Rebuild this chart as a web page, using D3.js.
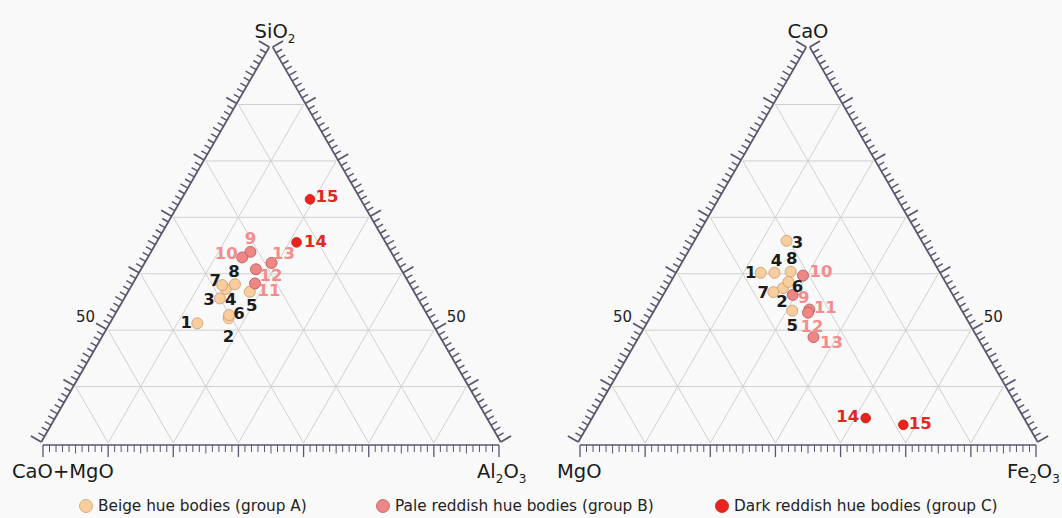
<!DOCTYPE html>
<html><head><meta charset="utf-8">
<script src="https://cdn.jsdelivr.net/npm/d3@7"></script>
<style>
body{margin:0;background:#f9f9f9;}
svg{display:block;font-family:"DejaVu Sans",Verdana,sans-serif;}
</style>
</head><body><svg id="chart" width="1062" height="518"></svg>
<script>
// ---------- data ----------
const sampleIds = [1,2,3,4,5,6,7,8,9,10,11,12,13,14,15];
const sampleGroups = ["A","A","A","A","A","A","A","A","B","B","B","B","B","C","C"];
const groupKeys = ["A","B","C"];
const groupNames = ["Beige hue bodies (group A)","Pale reddish hue bodies (group B)","Dark reddish hue bodies (group C)"];

// left diagram: SiO2 (top) - Al2O3 (right) - CaO+MgO (left), wt %
const leftSiO2   = [30.3,31.6,36.6,39.0,38.3,32.4,40.0,40.2,48.4,47.0,40.4,44.0,45.6,50.8,61.7];
const leftAl2O3  = [18.7,24.9,20.5,20.6,26.2,24.6,19.3,22.0,21.3,20.2,26.3,24.7,27.3,30.2,27.7];
const leftCaOMgO = [51.0,43.5,42.9,40.4,35.5,43.0,40.7,37.8,30.3,32.8,33.3,31.3,27.1,19.0,10.6];

// right diagram: CaO (top) - Fe2O3 (right) - MgO (left), wt %
const rightCaO   = [43.1,39.2,51.2,43.1,33.5,40.8,38.2,43.4,37.5,42.4,33.8,33.0,26.8,6.3,4.6];
const rightFe2O3 = [18.1,24.9,19.7,21.1,29.8,25.3,23.3,24.5,27.9,27.7,33.4,33.5,37.8,59.5,68.6];
const rightMgO   = [38.8,35.9,29.1,35.8,36.7,33.9,38.5,32.1,34.6,29.9,32.8,33.5,35.4,34.2,26.8];

const gridDivisions = 7;
const sideTickLabels = ["50"];

// ---------- layout / style ----------
const leftLabelOffsets  = [[-11,-1],[0,18],[-11,1],[5,11],[2,14],[10,-2],[-7,-5],[-1,-13],[0,-13],[-16,-4],[14,7],[15,6],[12,-9],[19,-1],[17,-3]];
const rightLabelOffsets = [[-10,0],[-1,13],[11,2],[2,-12],[0,15],[9,5],[-10,0],[1,-13],[11,3],[18,-4],[16,-2],[4,14],[18,5],[-18,-2],[17,-1]];
const fillColor   = {A:"#f9cd9c", B:"#f08585", C:"#e8241c"};
const strokeColor = {A:"#c9a27a", B:"#b86060", C:"#d11a12"};
const labelColor  = {A:"#1b1b1b", B:"#f58b8b", C:"#e5261d"};
const radius      = {A:5.5, B:5.5, C:4.8};

const svg = d3.select("#chart");

function drawTernary(cfg){
  const {x0, x1, yb, top, right, left, titles, labelOffsets} = cfg;
  const W = x1 - x0, H = W*Math.sqrt(3)/2;
  const xs = d3.scaleLinear().domain([0,100]).range([x0,x1]);
  const ys = d3.scaleLinear().domain([0,100]).range([yb, yb-H]);
  const pos = (t,r,l) => { const s=t+r+l; t=t/s*100; r=r/s*100; return [xs(r+t/2), ys(t)]; };
  const g = svg.append("g");

  // grid
  const grid = g.append("g").attr("stroke","#d0d0d0").attr("stroke-width",1).attr("fill","none");
  const step = 100/gridDivisions;
  for(let k=1;k<gridDivisions;k++){
    const v = k*step;
    const lines = [
      [pos(v,0,100-v), pos(v,100-v,0)],
      [pos(0,v,100-v), pos(100-v,v,0)],
      [pos(0,100-v,v), pos(100-v,0,v)]
    ];
    lines.forEach(([a,b])=>grid.append("line").attr("x1",a[0]).attr("y1",a[1]).attr("x2",b[0]).attr("y2",b[1]));
  }

  // axes (offset outward)
  const A = pos(0,0,100), B = pos(0,100,0), C = pos(100,0,0);
  const sides = [
    {p:A, q:B, n:[0,1], labels:false, sw:1},
    {p:A, q:C, n:[-Math.sqrt(3)/2,-0.5], labels:true, sw:1.5},
    {p:B, q:C, n:[Math.sqrt(3)/2,-0.5], labels:true, sw:1.5}
  ];
  const ax = g.append("g").attr("stroke","#5a5670").attr("fill","none");
  const off = 2;
  const nt = gridDivisions*10;
  sides.forEach(sd=>{
    const [nx,ny] = sd.n;
    const p = [sd.p[0]+nx*off, sd.p[1]+ny*off], q = [sd.q[0]+nx*off, sd.q[1]+ny*off];
    ax.append("line").attr("x1",p[0]).attr("y1",p[1]).attr("x2",q[0]).attr("y2",q[1]).attr("stroke-width",sd.sw+0.3);
    for(let i=0;i<=nt;i++){
      const t=i/nt;
      const bx = p[0]+(q[0]-p[0])*t, by = p[1]+(q[1]-p[1])*t;
      const len = i%10===0 ? 12 : (i%5===0 ? 8.5 : 7);
      ax.append("line").attr("x1",bx).attr("y1",by).attr("x2",bx+nx*len).attr("y2",by+ny*len)
        .attr("stroke-width", i%10===0 ? sd.sw+0.3 : sd.sw);
    }
    if(sd.labels){
      sideTickLabels.forEach(lbl=>{
        const k = +lbl/10;
        const t = 1 - k/gridDivisions;
        const bx = p[0]+(q[0]-p[0])*t, by = p[1]+(q[1]-p[1])*t;
        g.append("text").attr("x",bx+nx*24).attr("y",by+ny*24)
          .attr("text-anchor","middle").attr("dominant-baseline","central")
          .attr("font-size",15).attr("fill","#222").text(lbl);
      });
    }
  });

  // titles
  titles.forEach(tt=>{
    const t = g.append("text").attr("x",tt.x).attr("y",tt.y).attr("text-anchor",tt.anchor)
      .attr("font-size",19.5).attr("fill","#1a1a1a");
    let shifted = false;
    tt.parts.forEach(pp=>{
      const ts = t.append("tspan").text(pp.s);
      if(pp.sub){ ts.attr("font-size",12).attr("dy", shifted?0:5); shifted = true; }
      else { if(shifted){ ts.attr("dy",-5); shifted=false; } }
    });
  });

  // points
  const pts = sampleIds.map((id,i)=>{
    const [x,y] = pos(top[i], right[i], left[i]);
    return {id, grp:sampleGroups[i], x, y, off:labelOffsets[i]};
  });
  const order = pts.slice().sort((a,b)=>groupKeys.indexOf(a.grp)-groupKeys.indexOf(b.grp));
  g.append("g").selectAll("circle").data(order).join("circle")
    .attr("cx",d=>d.x).attr("cy",d=>d.y).attr("r",d=>radius[d.grp])
    .attr("fill",d=>fillColor[d.grp]).attr("stroke",d=>strokeColor[d.grp]).attr("stroke-width",0.9);
  g.append("g").selectAll("text").data(pts).join("text")
    .attr("x",d=>d.x+d.off[0]).attr("y",d=>d.y+d.off[1])
    .attr("text-anchor","middle").attr("dominant-baseline","central")
    .attr("font-size",16.5).attr("font-weight","bold")
    .attr("fill",d=>labelColor[d.grp]).text(d=>d.id);
}

drawTernary({x0:43, x1:499, yb:443, top:leftSiO2, right:leftAl2O3, left:leftCaOMgO,
  labelOffsets:leftLabelOffsets,
  titles:[
    {x:275, y:38, anchor:"middle", parts:[{s:"SiO"},{s:"2",sub:true}]},
    {x:12, y:478, anchor:"start", parts:[{s:"CaO+MgO"}]},
    {x:477, y:478, anchor:"start", parts:[{s:"Al"},{s:"2",sub:true},{s:"O"},{s:"3",sub:true}]}
  ]});
drawTernary({x0:580, x1:1036, yb:443, top:rightCaO, right:rightFe2O3, left:rightMgO,
  labelOffsets:rightLabelOffsets,
  titles:[
    {x:808, y:38, anchor:"middle", parts:[{s:"CaO"}]},
    {x:557, y:478, anchor:"start", parts:[{s:"MgO"}]},
    {x:1007, y:478, anchor:"start", parts:[{s:"Fe"},{s:"2",sub:true},{s:"O"},{s:"3",sub:true}]}
  ]});

// legend
const legendX = [86, 383, 722];
const lg = svg.append("g");
groupKeys.forEach((k,i)=>{
  lg.append("circle").attr("cx",legendX[i]).attr("cy",506).attr("r",6.5)
    .attr("fill",fillColor[k]).attr("stroke",strokeColor[k]).attr("stroke-width",0.8);
  lg.append("text").attr("x",legendX[i]+12).attr("y",506).attr("dominant-baseline","central")
    .attr("font-size",15.3).attr("fill","#222").text(groupNames[i]);
});
</script>
</body></html>
